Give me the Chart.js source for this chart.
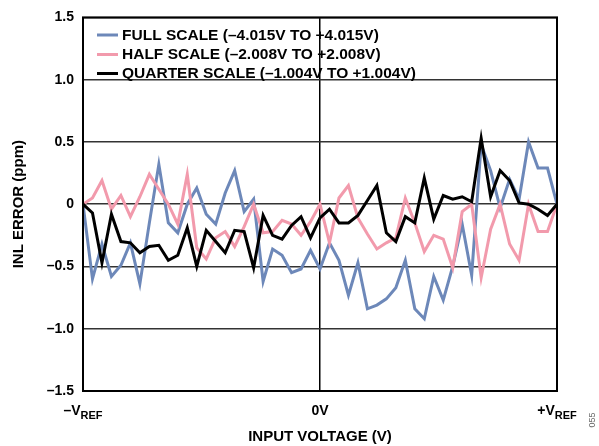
<!DOCTYPE html>
<html>
<head>
<meta charset="utf-8">
<script src="https://cdn.jsdelivr.net/npm/chart.js@4.4.1/dist/chart.umd.min.js"></script>
<style>
  html, body { margin: 0; padding: 0; background: #ffffff; }
  #wrap { width: 599px; height: 446px; position: relative; }
</style>
</head>
<body>
<div id="wrap"><canvas id="c" width="599" height="446"></canvas></div>
<script>
// ---- data (INL error, ppm) ----
const seriesNames = [
  "FULL SCALE (\u20134.015V TO +4.015V)",
  "HALF SCALE (\u20132.008V TO +2.008V)",
  "QUARTER SCALE (\u20131.004V TO +1.004V)"
];
const fullScale = [0, -0.6, -0.32, -0.58, -0.49, -0.31, -0.64, -0.15, 0.32, -0.15,
  -0.23, 0.0, 0.13, -0.08, -0.16, 0.09, 0.27, -0.06, 0.04, -0.62,
  -0.36, -0.41, -0.55, -0.52, -0.37, -0.52, -0.31, -0.45, -0.73, -0.47,
  -0.84, -0.81, -0.76, -0.67, -0.45, -0.84, -0.92, -0.58, -0.77, -0.5,
  -0.16, -0.57, 0.48, 0.27, -0.03, 0.2, 0.04, 0.5, 0.29, 0.29, 0];
const halfScale = [0, 0.05, 0.19, -0.04, 0.07, -0.1, 0.06, 0.24, 0.12, 0.0,
  -0.16, 0.24, -0.35, -0.44, -0.27, -0.22, -0.34, -0.18, 0.0, -0.23,
  -0.22, -0.13, -0.16, -0.25, -0.14, 0.0, -0.31, 0.05, 0.15, -0.11,
  -0.24, -0.36, -0.31, -0.27, 0.05, -0.15, -0.38, -0.25, -0.28, -0.51,
  -0.06, 0.0, -0.59, -0.2, 0.0, -0.32, -0.45, 0.0, -0.22, -0.22, 0];
const quarterScale = [0, -0.07, -0.47, -0.08, -0.3, -0.31, -0.39, -0.34, -0.33, -0.45,
  -0.41, -0.19, -0.5, -0.21, -0.3, -0.39, -0.21, -0.22, -0.51, -0.09,
  -0.25, -0.28, -0.17, -0.1, -0.27, -0.11, -0.04, -0.15, -0.15, -0.09,
  0.03, 0.15, -0.23, -0.3, -0.1, -0.15, 0.21, -0.12, 0.07, 0.04,
  0.06, 0.02, 0.53, 0.06, 0.27, 0.19, 0.01, 0, -0.04, -0.09, 0];
// x-axis tick positions (sample index) and their labels: [main, subscript]
const xTickPositions = [0, 25, 50];
const xTickLabels = [["\u2013V", "REF"], ["0V", ""], ["+V", "REF"]];
const yTicks = [-1.5, -1.0, -0.5, 0, 0.5, 1.0, 1.5];

const colors = ["#6d88b9", "#f29aac", "#000000"];
const FONT = "'Liberation Sans', Arial, sans-serif";

function toXY(arr) { return arr.map((v, i) => ({ x: i, y: v })); }

const frame = {
  id: 'frame',
  afterDraw(chart) {
    const ctx = chart.ctx, a = chart.chartArea;
    const xs = chart.scales.x;
    ctx.save();
    // plot border
    ctx.strokeStyle = '#000';
    ctx.lineWidth = 2;
    ctx.strokeRect(a.left, a.top, a.right - a.left, a.bottom - a.top);
    // x tick labels with subscripts
    ctx.fillStyle = '#000';
    ctx.textBaseline = 'alphabetic';
    xTickPositions.forEach((p, k) => {
      const px = xs.getPixelForValue(p);
      const main = xTickLabels[k][0], sub = xTickLabels[k][1];
      ctx.font = "bold 14px " + FONT;
      const wm = ctx.measureText(main).width;
      ctx.font = "bold 11px " + FONT;
      const ws = sub ? ctx.measureText(sub).width : 0;
      let x0 = px - (wm + ws) / 2;
      ctx.font = "bold 14px " + FONT;
      ctx.textAlign = 'left';
      ctx.fillText(main, x0, 415);
      if (sub) {
        ctx.font = "bold 11px " + FONT;
        ctx.fillText(sub, x0 + wm, 419);
      }
    });
    // legend
    const rows = [35, 54.5, 73.5];
    seriesNames.forEach((name, k) => {
      ctx.strokeStyle = colors[k];
      ctx.lineWidth = 3;
      ctx.beginPath();
      ctx.moveTo(97, rows[k]);
      ctx.lineTo(118, rows[k]);
      ctx.stroke();
      ctx.font = "bold 15.5px " + FONT;
      ctx.textAlign = 'left';
      ctx.textBaseline = 'middle';
      ctx.fillStyle = '#000';
      ctx.fillText(name, 122, rows[k] + 0.5);
    });
    // figure id
    ctx.translate(593, 420);
    ctx.rotate(-Math.PI / 2);
    ctx.font = "9px " + FONT;
    ctx.fillStyle = '#666';
    ctx.textAlign = 'center';
    ctx.textBaseline = 'middle';
    ctx.fillText("055", 0, 0);
    ctx.restore();
  }
};

new Chart(document.getElementById('c'), {
  type: 'line',
  data: {
    datasets: [
      { label: seriesNames[0], data: toXY(fullScale), borderColor: colors[0], borderWidth: 3, pointRadius: 0, tension: 0, order: 3 },
      { label: seriesNames[1], data: toXY(halfScale), borderColor: colors[1], borderWidth: 3, pointRadius: 0, tension: 0, order: 2 },
      { label: seriesNames[2], data: toXY(quarterScale), borderColor: colors[2], borderWidth: 3, pointRadius: 0, tension: 0, order: 1 }
    ]
  },
  options: {
    responsive: false,
    animation: false,
    devicePixelRatio: 1,
    layout: { padding: { left: 10, right: 42, top: 12, bottom: 0 } },
    plugins: { legend: { display: false }, tooltip: { enabled: false } },
    scales: {
      x: {
        type: 'linear', min: 0, max: 50,
        afterBuildTicks: (s) => { s.ticks = xTickPositions.map(v => ({ value: v })); },
        afterFit: (s) => { s.height = 55; },
        ticks: { display: false },
        grid: {
          drawTicks: false,
          color: (c) => (c.tick && c.tick.value === 25) ? '#000' : 'rgba(0,0,0,0)',
          lineWidth: 1.5
        },
        border: { display: false },
        title: {
          display: true, text: 'INPUT VOLTAGE (V)',
          font: { family: FONT, size: 15, weight: 'bold' }, color: '#000',
          padding: { top: 30, bottom: 0 }
        }
      },
      y: {
        min: -1.5, max: 1.5,
        afterBuildTicks: (s) => { s.ticks = yTicks.map(v => ({ value: v })); },
        afterFit: (s) => { s.width = 73; },
        ticks: {
          padding: 9,
          color: '#000',
          font: { family: FONT, size: 14, weight: 'bold' },
          callback: (v) => v === 0 ? '0' : (v < 0 ? '\u2013' + Math.abs(v).toFixed(1) : v.toFixed(1))
        },
        grid: { drawTicks: false, color: '#333', lineWidth: 1.5 },
        border: { display: false },
        title: {
          display: true, text: 'INL ERROR (ppm)',
          font: { family: FONT, size: 15, weight: 'bold' }, color: '#000',
          padding: { top: 0, bottom: 6 }
        }
      }
    }
  },
  plugins: [frame]
});
</script>
</body>
</html>
